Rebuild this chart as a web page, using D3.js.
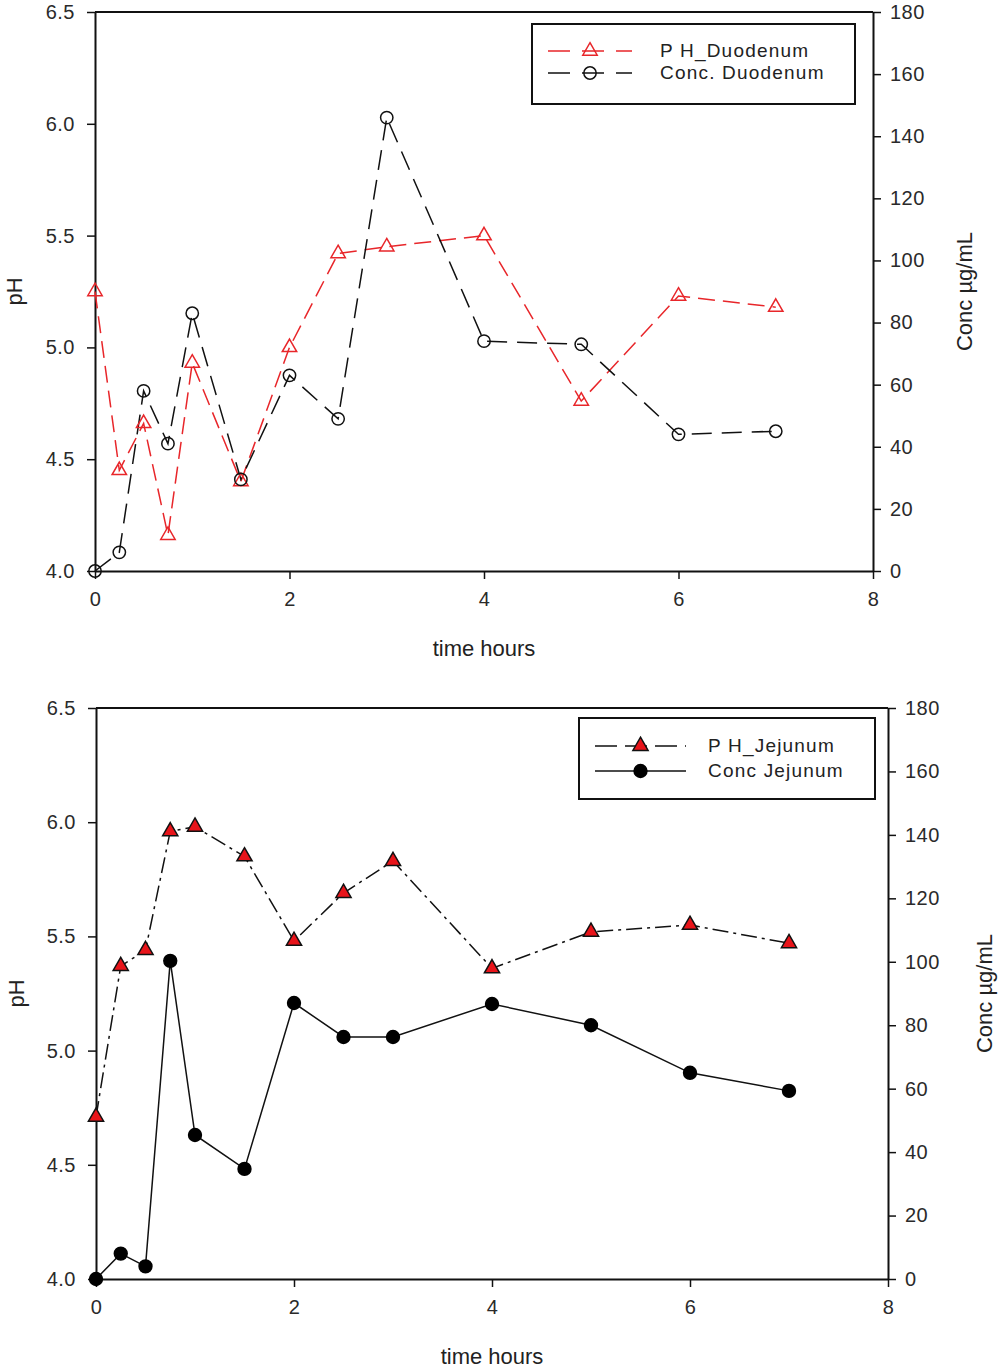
<!DOCTYPE html>
<html><head><meta charset="utf-8">
<script src="https://cdn.jsdelivr.net/npm/d3@7"></script>
<style>
body{margin:0;background:#fff;}
svg text{font-family:"Liberation Sans",Arial,sans-serif;}
</style></head>
<body><svg id="c" width="1001" height="1368"></svg>
<script>
const times = [0, 0.25, 0.5, 0.75, 1, 1.5, 2, 2.5, 3, 4, 5, 6, 7];
const phDuodenum = [5.25, 4.45, 4.66, 4.16, 4.93, 4.40, 5.00, 5.42, 5.45, 5.50, 4.76, 5.23, 5.18];
const concDuodenum = [0, 6, 58, 41, 83, 29.5, 63, 49, 146, 74, 73, 44, 45];
const phJejunum = [4.71, 5.37, 5.44, 5.96, 5.98, 5.85, 5.48, 5.69, 5.83, 5.36, 5.52, 5.55, 5.47];
const concJejunum = [0, 8, 4, 100.3, 45.4, 34.7, 87, 76.3, 76.3, 86.7, 80, 65, 59.3];
const phTicks = [4.0, 4.5, 5.0, 5.5, 6.0, 6.5];
const concTicks = [0, 20, 40, 60, 80, 100, 120, 140, 160, 180];
const timeTicks = [0, 2, 4, 6, 8];

const svg = d3.select("#c");

function panel(cfg){
  const g = svg.append("g");
  const x = d3.scaleLinear().domain([0,8]).range([cfg.x0, cfg.x1]);
  const yL = d3.scaleLinear().domain([4,6.5]).range([cfg.y1, cfg.y0]);
  const yR = d3.scaleLinear().domain([0,180]).range([cfg.y1, cfg.y0]);

  g.append("line").attr("x1",cfg.x0).attr("x2",cfg.x1).attr("y1",cfg.y0).attr("y2",cfg.y0)
    .attr("stroke","#111").attr("stroke-width",2);

  const styleAxis = (sel)=>{
    sel.select(".domain").attr("stroke","#111").attr("stroke-width",2);
    sel.selectAll(".tick line").attr("stroke","#111").attr("stroke-width",1.5);
    sel.selectAll(".tick text").attr("fill","#2a2a2a").attr("font-size",20).attr("letter-spacing",0.5)
      .attr("font-family","'Liberation Sans',Arial,sans-serif");
  };
  g.append("g").attr("transform",`translate(${cfg.x0},0)`)
    .call(d3.axisLeft(yL).tickValues(phTicks).tickFormat(d3.format(".1f")).tickSize(8).tickSizeOuter(0).tickPadding(12))
    .call(styleAxis);
  g.append("g").attr("transform",`translate(${cfg.x1},0)`)
    .call(d3.axisRight(yR).tickValues(concTicks).tickSize(8).tickSizeOuter(0).tickPadding(9))
    .call(styleAxis);
  g.append("g").attr("transform",`translate(0,${cfg.y1})`)
    .call(d3.axisBottom(x).tickValues(timeTicks).tickSize(8).tickSizeOuter(0).tickPadding(13))
    .call(styleAxis);

  g.append("text").attr("transform",`translate(${cfg.phX},${(cfg.y0+cfg.y1)/2}) rotate(-90)`)
    .attr("text-anchor","middle").attr("font-size",22).attr("fill","#222").text("pH");
  g.append("text").attr("transform",`translate(${cfg.concX},${(cfg.y0+cfg.y1)/2}) rotate(-90)`)
    .attr("text-anchor","middle").attr("font-size",22).attr("fill","#222").text("Conc µg/mL");
  g.append("text").attr("x",(cfg.x0+cfg.x1)/2).attr("y",cfg.timeY)
    .attr("text-anchor","middle").attr("font-size",22).attr("fill","#222").text("time hours");

  const s1 = cfg.series[0], s2 = cfg.series[1];
  [ [s1, yL], [s2, yR] ].forEach(([s, ys])=>{
    const line = d3.line().x((d,i)=>x(times[i])).y(d=>ys(d));
    g.append("path").datum(s.values).attr("d",line).attr("fill","none")
      .attr("stroke",s.lineColor).attr("stroke-width",1.5).attr("stroke-dasharray",s.dash);
  });
  [ [s1, yL], [s2, yR] ].forEach(([s, ys])=>{
    const sym = d3.symbol().type(s.shape==="tri"?d3.symbolTriangle:d3.symbolCircle).size(s.size);
    g.selectAll(null).data(s.values).enter().append("path")
      .attr("d",sym).attr("transform",(d,i)=>`translate(${x(times[i])},${ys(d)})`)
      .attr("fill",s.fill).attr("stroke",s.stroke).attr("stroke-width",1.5);
  });

  const L = cfg.legend;
  g.append("rect").attr("x",L.x).attr("y",L.y).attr("width",L.w).attr("height",L.h)
    .attr("fill","#fff").attr("stroke","#111").attr("stroke-width",2);
  [s1,s2].forEach((s,k)=>{
    const yy = L.y + L.row0 + k*L.dy;
    g.append("line").attr("x1",L.lx0).attr("x2",L.lx1).attr("y1",yy).attr("y2",yy)
      .attr("stroke",s.lineColor).attr("stroke-width",1.5).attr("stroke-dasharray",s.legendDash);
    const sym = d3.symbol().type(s.shape==="tri"?d3.symbolTriangle:d3.symbolCircle).size(s.size);
    g.append("path").attr("d",sym).attr("transform",`translate(${(L.lx0+L.lx1)/2},${yy})`)
      .attr("fill",s.fill).attr("stroke",s.stroke).attr("stroke-width",1.5);
    g.append("text").attr("x",L.tx).attr("y",yy+6).attr("font-size",19).attr("letter-spacing",1.2)
      .attr("fill","#222").text(s.name);
  });
}

panel({
  x0:95, x1:873, y0:12, y1:571, phX:22, concX:972, timeY:656,
  series:[
    {name:"P H_Duodenum", values:phDuodenum, lineColor:"#e8262a", dash:"17,8", legendDash:"22,12", shape:"tri", size:90, fill:"none", stroke:"#e8262a"},
    {name:"Conc. Duodenum", values:concDuodenum, lineColor:"#111", dash:"20,10", legendDash:"22,12", shape:"circ", size:120, fill:"none", stroke:"#111"}
  ],
  legend:{x:532,y:24,w:323,h:80,row0:27,dy:22,lx0:548,lx1:632,tx:660}
});
panel({
  x0:96, x1:888, y0:708, y1:1279, phX:24, concX:992, timeY:1364,
  series:[
    {name:"P H_Jejunum", values:phJejunum, lineColor:"#111", dash:"16,5,3,5", legendDash:"22,8", shape:"tri", size:100, fill:"#e8141a", stroke:"#111"},
    {name:"Conc Jejunum", values:concJejunum, lineColor:"#111", dash:null, legendDash:null, shape:"circ", size:130, fill:"#000", stroke:"#000"}
  ],
  legend:{x:579,y:718,w:296,h:81,row0:28,dy:25,lx0:595,lx1:686,tx:708}
});
</script></body></html>
